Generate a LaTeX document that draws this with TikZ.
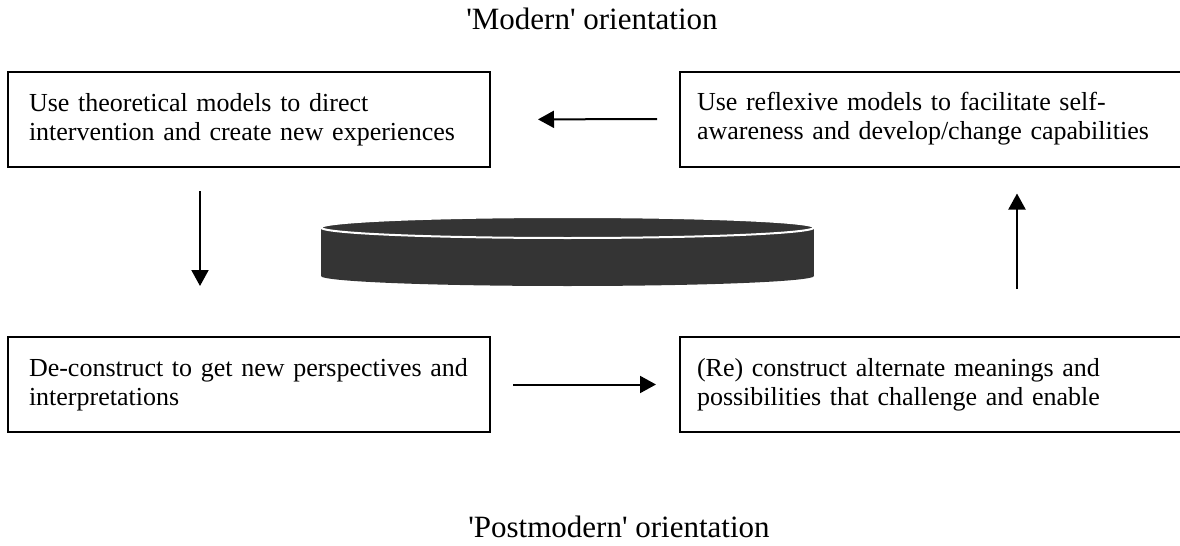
\documentclass[tikz,border=0pt]{standalone}
\usepackage{fontspec}
\setmainfont{Liberation Serif}
\usepackage{tikz}
\usetikzlibrary{arrows.meta}
\definecolor{diskgrey}{HTML}{343434}
\tikzset{stage/.style={draw,line width=1pt,align=left,inner sep=0pt,
                       minimum height=47.5pt,font=\fontsize{13}{14.6}\selectfont}}
\tikzset{leftstage/.style={stage,text width=220pt,minimum width=241pt}}
\tikzset{rightstage/.style={stage,text width=238pt,minimum width=255pt}}

\begin{document}
\begin{tikzpicture}[x=0.5pt,y=-0.5pt]
    \tikzstyle{flow}=[-{Triangle[length=8pt,width=8.5pt]},line width=1pt]
    \tikzstyle{caption}=[font=\fontsize{15.5}{19}\selectfont,anchor=base]
    \useasboundingbox (0,0) rectangle (1180,546);

    % Orientation captions
    \node[caption] (modern) at (592,30) {\textquotesingle Modern\textquotesingle{} orientation};
    \node[caption] (postmodern) at (619,537) {\textquotesingle Postmodern\textquotesingle{} orientation};

    % The four stages of the cycle
    \node[leftstage] (theory) at (249,119.5)
        {Use theoretical models to direct\\intervention and create new experiences};
    \node[rightstage] (reflex) at (935,119)
        {Use reflexive models to facilitate self-\\awareness and develop/change capabilities};
    \node[leftstage] (deconstruct) at (249,384.5)
        {De-construct to get new perspectives and\\interpretations};
    \node[rightstage] (reconstruct) at (935,384.5)
        {(Re) construct alternate meanings and\\possibilities that challenge and enable};

    % The disk in the middle
    \fill[diskgrey] (321,228) rectangle (814,276);
    \fill[diskgrey] (567.5,276) ellipse [x radius=123.25pt, y radius=5pt];
    \filldraw[fill=diskgrey,draw=white,line width=1pt] (567.5,227.5)
        ellipse [x radius=123.25pt, y radius=5.25pt];

    % Arrows round the cycle
    \draw[flow,shorten <=11pt,shorten >=23.5pt] (reflex.west) -- (theory.east);
    \draw[flow,shorten <=11.5pt,shorten >=25pt]
        ([xshift=-24.5pt]theory.south) -- ([xshift=-24.5pt]deconstruct.north);
    \draw[flow,shorten <=11pt,shorten >=11.5pt] (deconstruct.east) -- (reconstruct.west);
    \draw[flow,shorten <=23.5pt,shorten >=13pt]
        ([xshift=41pt]reconstruct.north) -- ([xshift=41pt]reflex.south);
\end{tikzpicture}
\end{document}
